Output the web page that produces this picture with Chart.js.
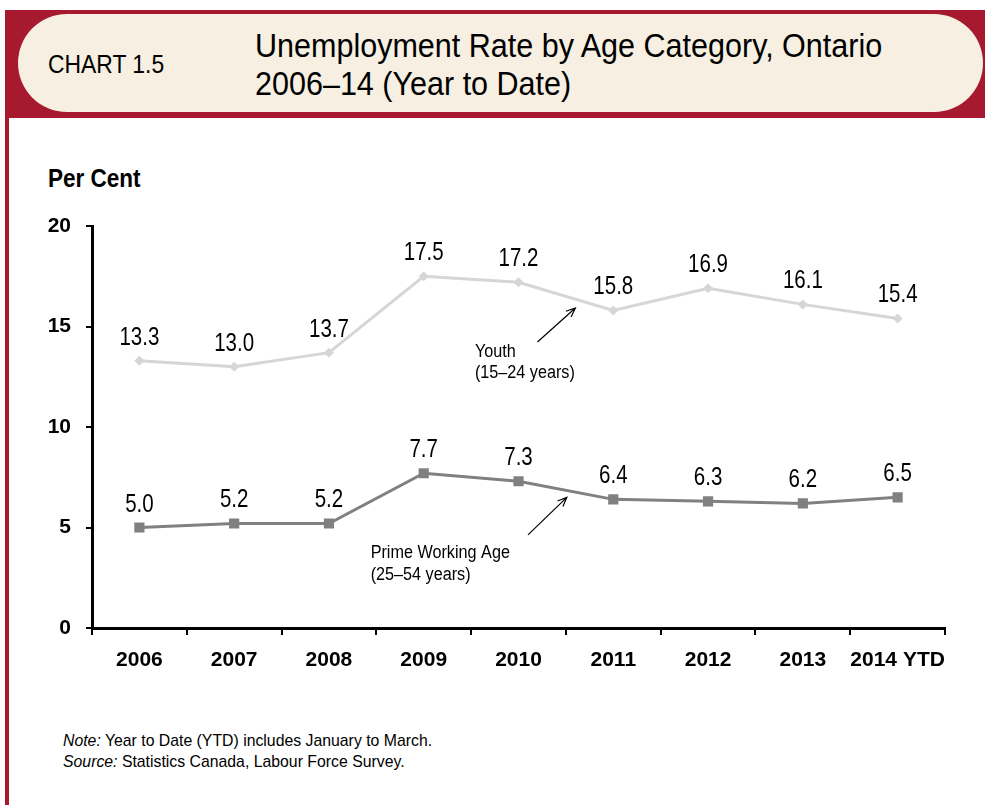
<!DOCTYPE html>
<html>
<head>
<meta charset="utf-8">
<script src="https://cdn.jsdelivr.net/npm/chart.js@4.4.1/dist/chart.umd.min.js"></script>
<style>
  body { margin: 0; width: 985px; height: 805px; background: #fff; position: relative; overflow: hidden;
         font-family: 'Liberation Sans', Arial, sans-serif; color: #000; }
  #band { position: absolute; left: 5px; top: 10px; width: 980px; height: 108px; background: #a6192e; }
  #pill { position: absolute; left: 18px; top: 14px; width: 965px; height: 98px; background: #f6efe2; border-radius: 49px; }
  #edge { position: absolute; left: 5px; top: 118px; width: 4px; height: 700px; background: #a6192e; }
  .txt { position: absolute; white-space: nowrap; transform-origin: left top; }
  #chartNo { left: 48px; top: 52px; font-size: 25px; line-height: 25px; transform: scaleX(0.915); }
  #title { left: 255px; top: 27px; font-size: 33px; line-height: 38px; transform: scaleX(0.925); }
  #unit { left: 48px; top: 166px; font-size: 25px; line-height: 25px; font-weight: bold; transform: scaleX(0.9); }
  #notes { left: 63px; top: 730px; font-size: 17px; line-height: 21px; transform: scaleX(0.93); }
  #wrap { position: absolute; left: 0; top: 140px; width: 985px; height: 560px; }
</style>
</head>
<body>
<div id="band"></div>
<div id="pill"></div>
<div id="edge"></div>
<div id="chartNo" class="txt">CHART 1.5</div>
<div id="title" class="txt">Unemployment Rate by Age Category, Ontario<br>2006–14 (Year to Date)</div>
<div id="unit" class="txt">Per Cent</div>
<div id="wrap"><canvas id="chart"></canvas></div>
<div id="notes" class="txt"><i>Note:</i> Year to Date (YTD) includes January to March.<br><i>Source:</i> Statistics Canada, Labour Force Survey.</div>

<script>
const FONT = "'Liberation Sans', Arial, sans-serif";

const years = ["2006", "2007", "2008", "2009", "2010", "2011", "2012", "2013", "2014 YTD"];
const youth = [13.3, 13.0, 13.7, 17.5, 17.2, 15.8, 16.9, 16.1, 15.4];
const primeAge = [5.0, 5.2, 5.2, 7.7, 7.3, 6.4, 6.3, 6.2, 6.5];
const yTicks = [0, 5, 10, 15, 20];

// series callouts, placed in data units (category index, per cent)
const callouts = [
  { lines: ["Youth", "(15–24 years)"], at: [3.54, 13.48], lineGap: 1.05, arrow: [[4.2, 14.23], [4.6, 15.92]] },
  { lines: ["Prime Working Age", "(25–54 years)"], at: [2.44, 3.48], lineGap: 1.09, arrow: [[4.1, 4.63], [4.51, 6.5]] }
];

// text squeezed horizontally to get a condensed face
function narrowText(ctx, text, x, y, sx, align) {
  const w = ctx.measureText(text).width * sx;
  const left = align === 'center' ? x - w / 2 : x;
  ctx.save();
  ctx.translate(left, y);
  ctx.scale(sx, 1);
  ctx.textAlign = 'left';
  ctx.fillText(text, 0, 0);
  ctx.restore();
}

const labelsPlugin = {
  id: 'valueLabels',
  afterDatasetsDraw(chart) {
    const ctx = chart.ctx;
    const xs = chart.scales.x, ys = chart.scales.y;
    ctx.save();
    ctx.fillStyle = '#000';
    ctx.textBaseline = 'alphabetic';
    ctx.font = '25px ' + FONT;
    chart.data.datasets.forEach((ds, i) => {
      chart.getDatasetMeta(i).data.forEach((pt, j) => {
        narrowText(ctx, ds.data[j].toFixed(1), pt.x, pt.y - 16, 0.82, 'center');
      });
    });

    ctx.font = '18px ' + FONT;
    ctx.strokeStyle = '#000';
    ctx.lineWidth = 1.2;
    callouts.forEach(c => {
      c.lines.forEach((t, k) => {
        narrowText(ctx, t, xs.getPixelForValue(c.at[0]), ys.getPixelForValue(c.at[1] - k * c.lineGap), 0.9, 'left');
      });
      const x1 = xs.getPixelForValue(c.arrow[0][0]), y1 = ys.getPixelForValue(c.arrow[0][1]);
      const x2 = xs.getPixelForValue(c.arrow[1][0]), y2 = ys.getPixelForValue(c.arrow[1][1]);
      const a = Math.atan2(y2 - y1, x2 - x1);
      ctx.beginPath();
      ctx.moveTo(x1, y1);
      ctx.lineTo(x2, y2);
      ctx.moveTo(x2 - 10 * Math.cos(a - 0.4), y2 - 10 * Math.sin(a - 0.4));
      ctx.lineTo(x2, y2);
      ctx.lineTo(x2 - 10 * Math.cos(a + 0.4), y2 - 10 * Math.sin(a + 0.4));
      ctx.stroke();
    });
    ctx.restore();
  }
};

new Chart(document.getElementById('chart'), {
  type: 'line',
  data: {
    labels: years,
    datasets: [
      {
        label: 'Youth (15–24 years)',
        data: youth,
        borderColor: '#d6d6d6',
        backgroundColor: '#d6d6d6',
        borderWidth: 3,
        pointStyle: 'rectRot',
        pointRadius: 5,
        pointBorderWidth: 0,
        tension: 0
      },
      {
        label: 'Prime Working Age (25–54 years)',
        data: primeAge,
        borderColor: '#808080',
        backgroundColor: '#808080',
        borderWidth: 3,
        pointStyle: 'rect',
        pointRadius: 7.2,
        pointBorderWidth: 0,
        tension: 0
      }
    ]
  },
  options: {
    responsive: true,
    maintainAspectRatio: false,
    animation: false,
    layout: { padding: { top: 86, right: 40, left: 0, bottom: 0 } },
    plugins: { legend: { display: false }, tooltip: { enabled: false } },
    scales: {
      x: {
        offset: true,
        grid: { offset: true, drawOnChartArea: false, color: '#000', lineWidth: 2, tickLength: 7 },
        border: { color: '#000', width: 3 },
        ticks: { color: '#000', padding: 13, font: { family: FONT, size: 21, weight: 'bold' }, maxRotation: 0, autoSkip: false },
        afterFit(scale) { scale.height = 72; }
      },
      y: {
        min: 0,
        max: 20,
        afterBuildTicks(scale) { scale.ticks = yTicks.map(v => ({ value: v })); },
        grid: { drawOnChartArea: false, color: '#000', lineWidth: 2, tickLength: 6 },
        border: { color: '#000', width: 3 },
        ticks: { color: '#000', padding: 15, font: { family: FONT, size: 21, weight: 'bold' } },
        afterFit(scale) { scale.width = 92; }
      }
    }
  },
  plugins: [labelsPlugin]
});
</script>
</body>
</html>
